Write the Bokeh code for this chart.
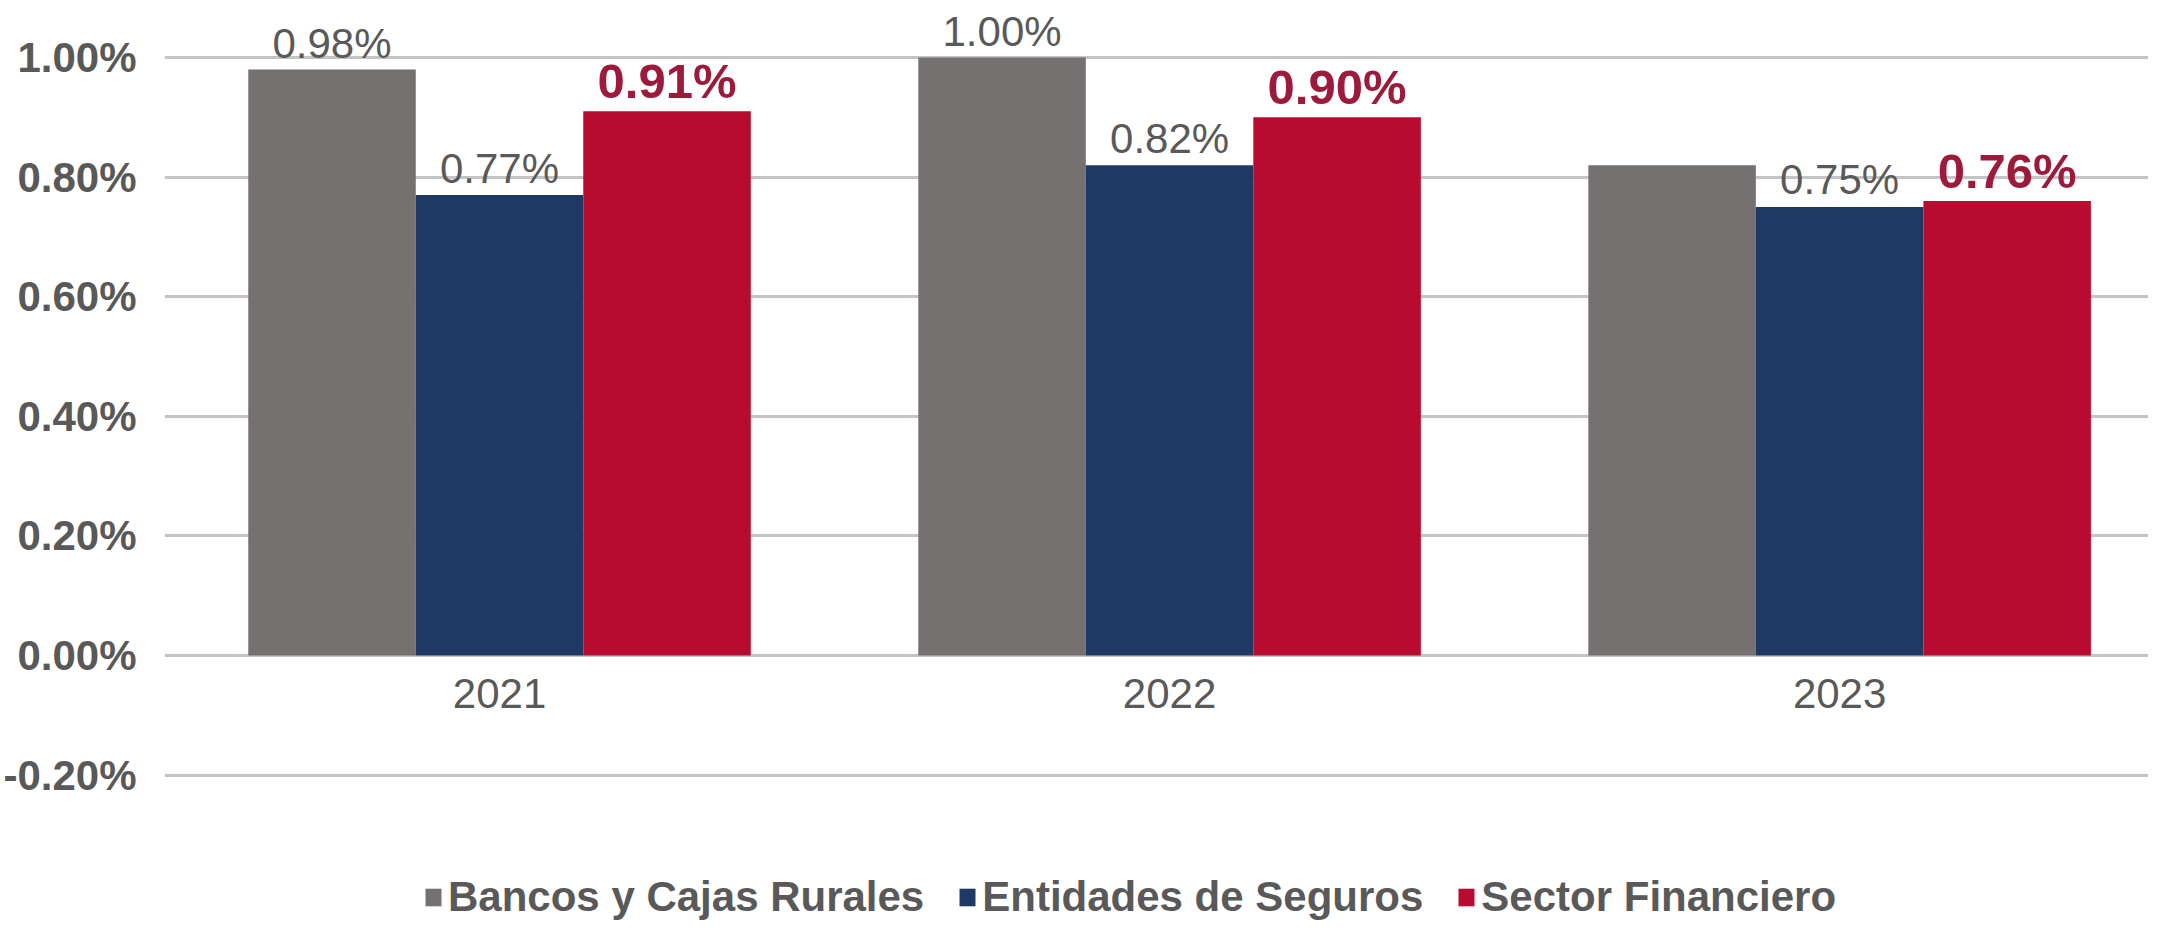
from bokeh.plotting import figure
from bokeh.models import (ColumnDataSource, Range1d, FixedTicker, NumeralTickFormatter,
                          Legend, LegendItem)
from bokeh.transform import dodge
from bokeh.core.properties import value
from bokeh.embed import file_html
from bokeh.resources import INLINE

# ---- data ----
years = ["2021", "2022", "2023"]
bancos = [0.0098, 0.0100, 0.0082]
seguros = [0.0077, 0.0082, 0.0075]
sector = [0.0091, 0.0090, 0.0076]
bancos_labels = ["0.98%", "1.00%", ""]
seguros_labels = ["0.77%", "0.82%", "0.75%"]
sector_labels = ["0.91%", "0.90%", "0.76%"]
y_ticks = [-0.002, 0.0, 0.002, 0.004, 0.006, 0.008, 0.010]
series_names = ["Bancos y Cajas Rurales", "Entidades de Seguros", "Sector Financiero"]

GRAY = "#767171"
NAVY = "#1f3864"
RED = "#b80b30"
TXT = "#595959"
LBL_RED = "#9e1a3b"
FONT = value("Liberation Sans")

idx = list(range(len(years)))
src = ColumnDataSource(dict(x=idx, years=years, bancos=bancos, seguros=seguros, sector=sector,
                            bl=bancos_labels, sl=seguros_labels, fl=sector_labels,
                            zero=[0.0] * len(years)))

p = figure(width=2148, height=924, output_backend="svg", toolbar_location=None,
           x_range=Range1d(-0.5, 2.461), y_range=Range1d(-0.004498, 0.010953),
           min_border_left=156, min_border_right=0, min_border_top=0, min_border_bottom=0,
           x_axis_location=None)
p.outline_line_color = None
p.background_fill_color = "white"
p.border_fill_color = "white"

# y axis
p.yaxis.ticker = FixedTicker(ticks=y_ticks)
p.yaxis.formatter = NumeralTickFormatter(format="0.00%")
p.yaxis.axis_line_color = None
p.yaxis.major_tick_line_color = None
p.yaxis.minor_tick_line_color = None
p.yaxis.major_label_text_font = "Liberation Sans"
p.yaxis.major_label_text_font_style = "bold"
p.yaxis.major_label_text_font_size = "42px"
p.yaxis.major_label_text_color = TXT
p.yaxis.major_label_standoff = 22

p.ygrid.ticker = FixedTicker(ticks=y_ticks)
p.ygrid.grid_line_color = "#c4c4c4"
p.ygrid.grid_line_width = 3
p.xgrid.grid_line_color = None

w = 0.25
r1 = p.vbar(x=dodge("x", -0.25, range=p.x_range), top="bancos", bottom=0, width=w,
            source=src, fill_color=GRAY, line_color=None)
r2 = p.vbar(x=dodge("x", 0.0, range=p.x_range), top="seguros", bottom=0, width=w,
            source=src, fill_color=NAVY, line_color=None)
r3 = p.vbar(x=dodge("x", 0.25, range=p.x_range), top="sector", bottom=0, width=w,
            source=src, fill_color=RED, line_color=None)

# value labels
p.text(x=dodge("x", -0.25, range=p.x_range), y="bancos", text="bl", source=src,
       text_align="center", text_baseline="alphabetic", y_offset=-26,
       text_font=FONT, text_font_size="42px", text_color=TXT)
p.text(x=dodge("x", 0.0, range=p.x_range), y="seguros", text="sl", source=src,
       text_align="center", text_baseline="alphabetic", y_offset=-27,
       text_font=FONT, text_font_size="42px", text_color=TXT)
p.text(x=dodge("x", 0.25, range=p.x_range), y="sector", text="fl", source=src,
       text_align="center", text_baseline="alphabetic", y_offset=-30,
       text_font=FONT, text_font_size="49px", text_font_style="bold", text_color=LBL_RED)

# category labels under the zero line
p.text(x="x", y="zero", text="years", source=src, text_align="center",
       text_baseline="alphabetic", y_offset=38, text_font=FONT,
       text_font_size="42px", text_color=TXT)

legend = Legend(items=[LegendItem(label=series_names[0], renderers=[r1]),
                       LegendItem(label=series_names[1], renderers=[r2]),
                       LegendItem(label=series_names[2], renderers=[r3])],
                orientation="horizontal", location=(259, 3),
                glyph_width=20, glyph_height=22, label_standoff=5, spacing=33,
                padding=0, margin=0, border_line_color=None, background_fill_alpha=0,
                label_text_font="Liberation Sans", label_text_font_style="bold",
                label_text_font_size="42px", label_text_color=TXT)
p.add_layout(legend, "center")

open("out.html", "w").write(file_html(p, INLINE))
